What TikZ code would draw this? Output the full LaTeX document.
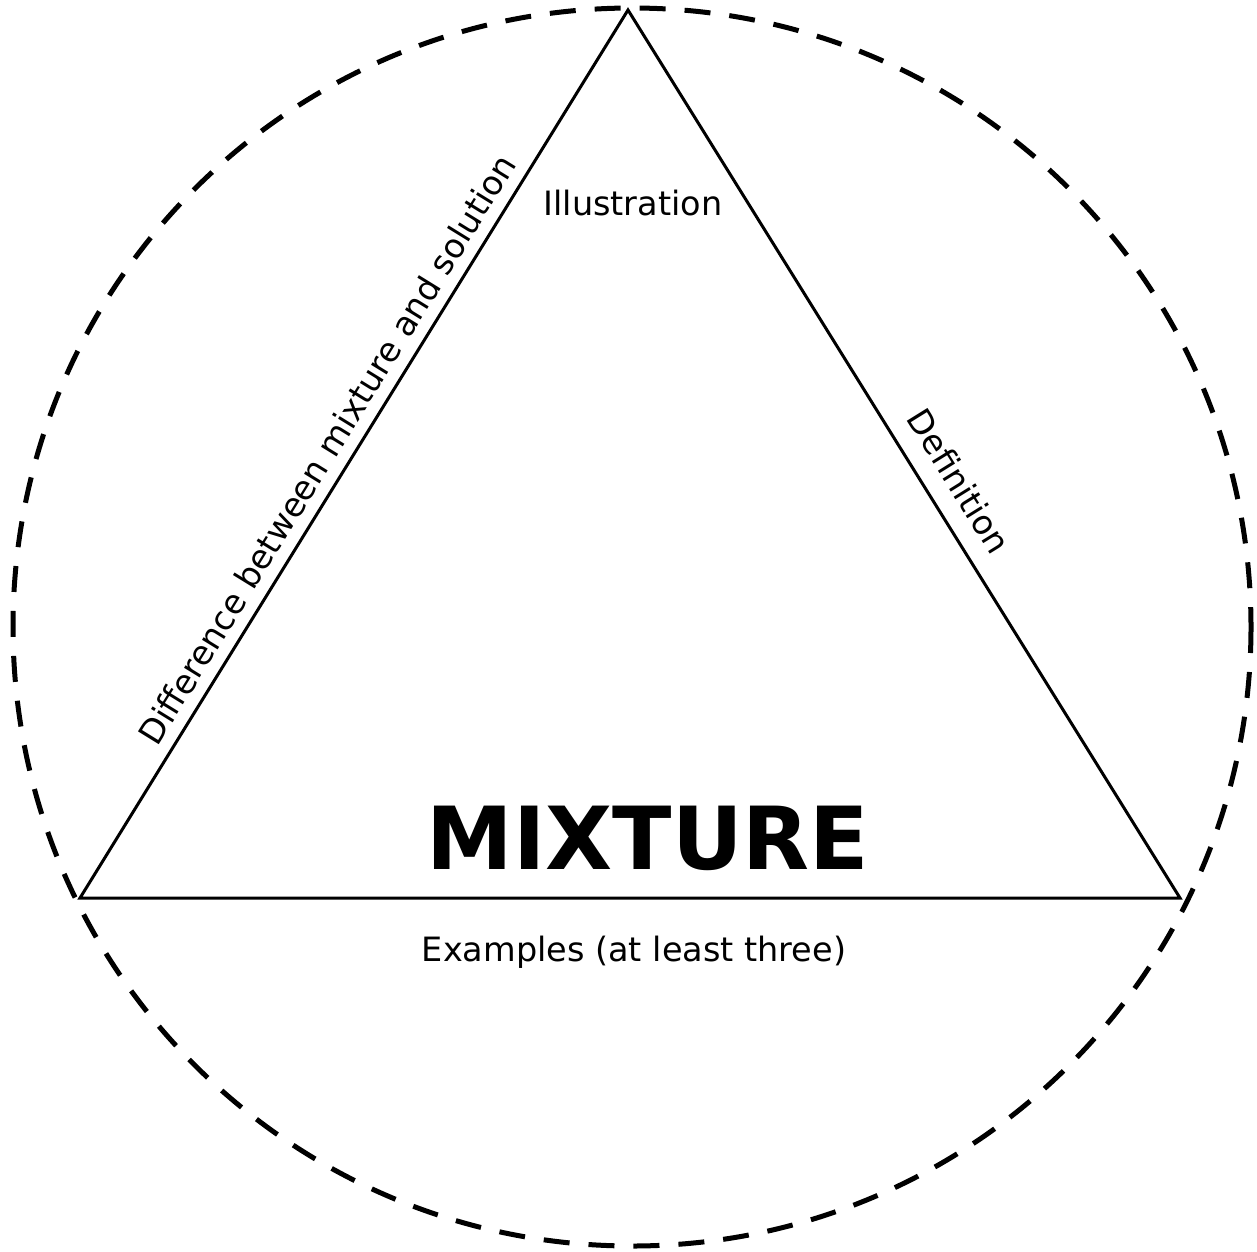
\documentclass[tikz,border=0pt]{standalone}
\usepackage{fontspec}
\setmainfont{DejaVu Sans}
\begin{document}
\begin{tikzpicture}[x=1pt,y=-1pt,
  ring/.style={line width=5pt, dash pattern=on 26pt off 19pt},
  edge/.style={line width=3pt, line join=miter},
  lbl/.style={font=\fontsize{33.5}{40}\selectfont, inner sep=0pt},
  title/.style={font=\fontsize{87}{94}\selectfont\bfseries, inner sep=0pt}]
\useasboundingbox (0,0) rectangle (1257,1251);
\coordinate (C) at (632,627);
\coordinate (T) at (628,10);
\coordinate (BL) at (80,898);
\coordinate (BR) at (1180,898);
\draw[ring] (C) circle[radius=619];
\draw[edge] (BL) -- node[lbl, sloped, above=11pt, pos=0.49] (diff) {Difference between mixture and solution} (T)
  -- node[lbl, sloped, above=18pt, pos=0.55] (def) {Definition} (BR)
  -- (BL) -- cycle;
\node[lbl] (ex) at (634,952) {Examples (at least three)};
\node[lbl] (ill) at (633,203) {Illustration};
\node[title] (mix) at (648,838) {MIXTURE};
\end{tikzpicture}
\end{document}
